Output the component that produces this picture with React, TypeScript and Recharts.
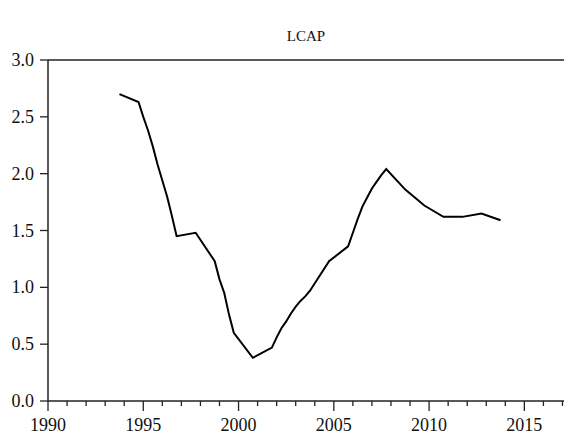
import React from 'react';
import { LineChart, Line, XAxis, YAxis, ReferenceLine } from 'recharts';

const periods = [
  1993.75, 1994.75, 1995.0, 1995.25, 1995.5, 1995.75, 1996.0, 1996.25, 1996.5, 1996.75,
  1997.75, 1998.75, 1999.0, 1999.25, 1999.5, 1999.75, 2000.75, 2001.75, 2002.0, 2002.25,
  2002.5, 2002.75, 2003.0, 2003.25, 2003.5, 2003.75, 2004.75, 2005.75, 2006.0, 2006.25,
  2006.5, 2006.75, 2007.0, 2007.25, 2007.5, 2007.75, 2008.75, 2009.75, 2010.75, 2011.75,
  2012.75, 2013.75,
];
const lcap = [
  2.70, 2.63, 2.50, 2.38, 2.24, 2.08, 1.94, 1.80, 1.63, 1.45,
  1.48, 1.23, 1.07, 0.95, 0.76, 0.60, 0.38, 0.47, 0.56, 0.64,
  0.70, 0.77, 0.83, 0.88, 0.92, 0.97, 1.23, 1.36, 1.48, 1.60,
  1.71, 1.79, 1.87, 1.93, 1.99, 2.04, 1.86, 1.72, 1.62, 1.62,
  1.65, 1.59,
];
const xTicks = [
  1990, 1991, 1992, 1993, 1994, 1995, 1996, 1997, 1998, 1999, 2000, 2001, 2002, 2003,
  2004, 2005, 2006, 2007, 2008, 2009, 2010, 2011, 2012, 2013, 2014, 2015, 2016, 2017,
];
const yTicks = [0, 0.5, 1.0, 1.5, 2.0, 2.5, 3.0];
const title = 'LCAP';

const data = periods.map((t, i) => ({ t, v: lcap[i] }));

const FONT = "'Liberation Serif', 'Times New Roman', Times, serif";
const AXIS = '#222';

const XTick = (props: any) => {
  const { x, y, payload } = props;
  const v = payload.value as number;
  const major = v % 5 === 0;
  return (
    <g>
      <line x1={x} x2={x} y1={y} y2={y + (major ? 10 : 5)} stroke={AXIS} strokeWidth={1.3} />
      {major && (
        <text x={x} y={y + 30} textAnchor="middle" fontSize={18} style={{ fontFamily: FONT }} fill="#111">
          {v}
        </text>
      )}
    </g>
  );
};

const YTick = (props: any) => {
  const { x, y, payload } = props;
  const v = payload.value as number;
  return (
    <g>
      <line x1={x - 8} x2={x} y1={y} y2={y} stroke={AXIS} strokeWidth={1.3} />
      <text x={x - 14} y={y + 6} textAnchor="end" fontSize={18} style={{ fontFamily: FONT }} fill="#111">
        {v.toFixed(1)}
      </text>
    </g>
  );
};

export default function App() {
  return (
    <div style={{ position: 'relative', margin: '-8px 0 0 -8px', width: 572, height: 436, background: '#fff', fontFamily: FONT }}>
      <div
        style={{
          position: 'absolute',
          left: 206,
          width: 200,
          top: 29,
          textAlign: 'center',
          fontFamily: FONT,
          fontSize: 15,
          lineHeight: '15px',
          color: '#111',
        }}
      >
        {title}
      </div>
      <LineChart width={572} height={436} data={data} margin={{ top: 60, right: 0, bottom: 0, left: 0 }}>
        <XAxis
          dataKey="t"
          type="number"
          domain={[1990, 2017.5]}
          ticks={xTicks}
          interval={0}
          allowDataOverflow
          tickSize={0}
          tickMargin={0}
          tickLine={false}
          tick={<XTick />}
          height={35}
          axisLine={{ stroke: AXIS, strokeWidth: 1.5 }}
        />
        <YAxis
          type="number"
          domain={[0, 3]}
          ticks={yTicks}
          interval={0}
          width={48}
          tickSize={0}
          tickMargin={0}
          tickLine={false}
          tick={<YTick />}
          axisLine={{ stroke: AXIS, strokeWidth: 1.5 }}
        />
        <ReferenceLine y={3} stroke={AXIS} strokeWidth={1.5} ifOverflow="extendDomain" />
        <Line
          type="linear"
          dataKey="v"
          stroke="#000"
          strokeWidth={2}
          dot={false}
          isAnimationActive={false}
        />
      </LineChart>
    </div>
  );
}
